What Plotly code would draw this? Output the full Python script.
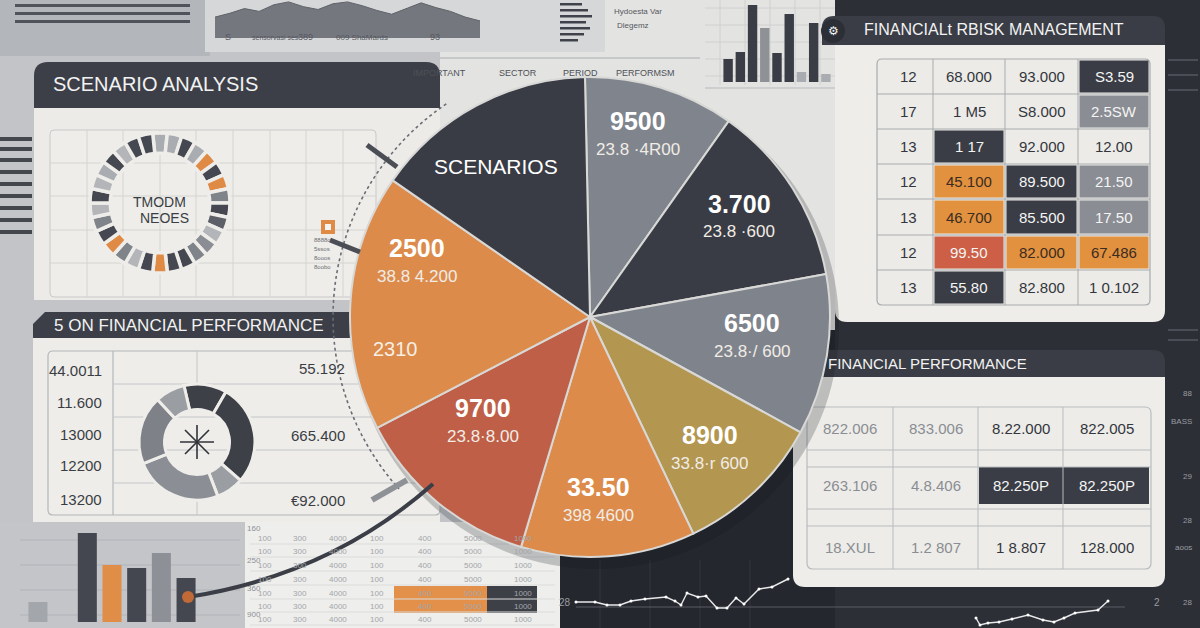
import math
import plotly.graph_objects as go

W, H = 1200, 628
FONT = "Liberation Sans, Arial, sans-serif"

# ---------------- data ----------------
pie_labels = ["9500", "3.700", "6500", "8900", "33.50", "9700", "2500", "SCENARIOS"]
pie_sub = ["23.8 ·4R00", "23.8 ·600", "23.8·/ 600", "33.8·r 600", "398 4600", "23.8·8.00", "38.8 4.200", ""]
pie_share = [36.5, 44.4, 39.0, 35.8, 42.2, 45.8, 62.2, 54.1]
pie_colors = ["#80858d", "#393c44", "#7f848c", "#b3964f", "#dc8b4b", "#bf5f47", "#dc8b4b", "#393c44"]

ring_values = [1, 1, 1, 1, 1, 1, 1, 1, 1, 1, 1, 1, 1, 1, 1, 1, 1, 1, 1, 1, 1, 1, 1, 1, 1, 1, 1, 1, 1, 1]
ring_colors = ["#a9acb1", "#a9acb1", "#454850", "#a9acb1", "#e08b45", "#454850", "#e08b45", "#7f838a",
               "#454850", "#5d6068", "#b3b5b9", "#8a8d93", "#7f838a", "#454850", "#454850", "#e08b45",
               "#454850", "#b3b5b9", "#7f838a", "#e08b45", "#454850", "#7f838a", "#b3b5b9", "#454850",
               "#b3b5b9", "#a9acb1", "#454850", "#b3b5b9", "#454850", "#454850"]

donut_values = [43, 101.5, 27.5, 89, 69, 30]
donut_colors = ["#3d4047", "#3d4047", "#9a9da2", "#8b8e94", "#7e8288", "#9a9da2"]

perf_left = ["44.0011", "11.600", "13000", "12200", "13200"]
perf_right = ["55.192", "665.400", "€92.000"]

risk_col0 = ["12", "17", "13", "12", "13", "12", "13"]
risk_col1 = ["68.000", "1 M5", "1 17", "45.100", "46.700", "99.50", "55.80"]
risk_col2 = ["93.000", "S8.000", "92.000", "89.500", "85.500", "82.000", "82.800"]
risk_col3 = ["S3.59", "2.5SW", "12.00", "21.50", "17.50", "67.486", "1 0.102"]

fin_row1 = ["822.006", "833.006", "8.22.000", "822.005"]
fin_row2 = ["263.106", "4.8.406", "82.250P", "82.250P"]
fin_row3 = ["18.XUL", "1.2 807", "1 8.807", "128.000"]

small_bar_cats = ["a", "b", "c", "d", "e", "f", "g"]
small_bar_vals = [20, 0, 89, 57, 54, 69, 44]
small_bar_cols = ["#a3a6ab", "#a3a6ab", "#44474f", "#e08d47", "#44474f", "#8d9096", "#44474f"]

top_bar_cats = ["1", "2", "3", "4", "5", "6", "7", "8", "9"]
top_bar_vals = [23, 30, 77, 54, 29, 68, 10, 59, 8]
top_bar_cols = ["#3a3d45", "#3a3d45", "#3a3d45", "#8e9196", "#3a3d45", "#3a3d45", "#a9acb0", "#3a3d45", "#a9acb0"]

line1_x = [6, 25, 37, 50, 61, 75, 96, 105, 111, 117, 128, 136, 147, 157, 166, 174, 189, 202, 218]
line1_y = [26, 26, 23, 23, 27, 29, 31, 27, 23, 35, 31, 32, 20, 20, 30, 24, 39, 41, 49]
line2_x = [406, 410, 418, 429, 442, 458, 473, 484, 494, 505, 528, 538]
line2_y = [10, 3, 5, 6, 9, 13, 8, 6, 10, 15, 18, 27]

area_vals = [22, 26, 31, 28, 35, 38, 33, 30, 36, 38, 34, 29, 25, 31, 37, 32, 28, 22, 18]


# ---------------- helpers ----------------
def X(p):
    return p / W


def Y(p):
    return 1 - p / H


shapes = []
annotations = []


def rect(x0, y0, x1, y1, fill, line=None, lw=0, layer="below"):
    shapes.append(dict(type="rect", xref="paper", yref="paper", x0=X(x0), x1=X(x1), y0=Y(y1), y1=Y(y0),
                       fillcolor=fill, line=dict(color=line or fill, width=lw), layer=layer))


def rrect(x0, y0, x1, y1, r, fill, line=None, lw=0, layer="below", corners=(1, 1, 1, 1)):
    tl, tr, br, bl = [r if c else 0 for c in corners]
    pts = []
    pts.append(f"M {X(x0 + tl)},{Y(y0)}")
    pts.append(f"L {X(x1 - tr)},{Y(y0)}")
    pts.append(f"Q {X(x1)},{Y(y0)} {X(x1)},{Y(y0 + tr)}")
    pts.append(f"L {X(x1)},{Y(y1 - br)}")
    pts.append(f"Q {X(x1)},{Y(y1)} {X(x1 - br)},{Y(y1)}")
    pts.append(f"L {X(x0 + bl)},{Y(y1)}")
    pts.append(f"Q {X(x0)},{Y(y1)} {X(x0)},{Y(y1 - bl)}")
    pts.append(f"L {X(x0)},{Y(y0 + tl)}")
    pts.append(f"Q {X(x0)},{Y(y0)} {X(x0 + tl)},{Y(y0)} Z")
    shapes.append(dict(type="path", xref="paper", yref="paper", path=" ".join(pts), fillcolor=fill,
                       line=dict(color=line or fill, width=lw), layer=layer))


def hline(x0, x1, y, color, w=1, layer="below", dash=None):
    shapes.append(dict(type="line", xref="paper", yref="paper", x0=X(x0), x1=X(x1), y0=Y(y), y1=Y(y),
                       line=dict(color=color, width=w, dash=dash), layer=layer))


def line(x0, y0, x1, y1, color, w=1, layer="below"):
    shapes.append(dict(type="line", xref="paper", yref="paper", x0=X(x0), x1=X(x1), y0=Y(y0), y1=Y(y1),
                       line=dict(color=color, width=w), layer=layer))


def circle(cx, cy, r, fill, line_c=None, lw=0, layer="below"):
    shapes.append(dict(type="circle", xref="paper", yref="paper", x0=X(cx - r), x1=X(cx + r),
                       y0=Y(cy + r), y1=Y(cy - r), fillcolor=fill,
                       line=dict(color=line_c or fill, width=lw), layer=layer))


def txt(x, y, s, size=14, color="#3a3d44", anchor="center", bold=False, family=FONT):
    annotations.append(dict(x=X(x), y=Y(y), xref="paper", yref="paper", text=(f"<b>{s}</b>" if bold else s),
                            showarrow=False, xanchor=anchor, yanchor="middle",
                            font=dict(size=size, color=color, family=family)))


# ---------------- background ----------------
rect(0, 0, 210, 56, "#b3b6bb")
for yy in [4, 12, 20]:
    rect(15, yy, 190, yy + 3, "#50535a")
rect(205, 0, 605, 52, "#d6d7d9")
rect(605, 0, 840, 330, "#e3e3e1")
rect(440, 52, 605, 330, "#e3e3e1")
for gy in [8, 25, 42, 59, 76]:
    hline(705, 835, gy, "#cfd0d0", 1)
for gx in [720, 745, 770, 795, 820]:
    line(gx, 0, gx, 85, "#cfd0d0", 1)
hline(705, 835, 88, "#b7b9bc", 1)
rect(835, 0, 1200, 628, "#2c2f36")
rect(560, 330, 835, 628, "#24272d")
for gx in [600, 650, 700, 750]:
    line(gx, 560, gx, 628, "#33363d", 1)
rect(245, 522, 560, 628, "#eeeeec")
rect(0, 522, 245, 628, "#c3c5c9")
for gy in [540, 565, 590, 615]:
    hline(20, 240, gy, "#b0b3b8", 1)
# left edge dark lines
for yy in [137, 147, 158, 170, 182, 194, 206, 218, 230]:
    rect(0, yy, 32, yy + 4, "#44474e")
# right edge faint lines
for yy in [60, 75, 90, 330, 340]:
    hline(1168, 1198, yy, "#4a4d55", 2)

# column headers above pie
txt(440, 73, "IMPORTANT", 9, "#4e5158", "center")
txt(518, 73, "SECTOR", 9, "#4e5158")
txt(580, 73, "PERIOD", 9, "#4e5158")
txt(645, 73, "PERFORMSM", 9, "#4e5158")
hline(440, 700, 58, "#c7c8ca", 2)

# top strip labels
txt(228, 37, "S", 9, "#55585f")
txt(250, 37, "sensorvasi ses", 7, "#55585f", "left")
txt(305, 37, "389", 9, "#55585f")
txt(362, 37, "009 ShaMards", 8, "#55585f")
txt(435, 37, "93", 9, "#55585f")
txt(612, 11, "Hydoesta Var", 8, "#55585f", "left")
txt(615, 25, "Dlegemz", 8, "#55585f", "left")
for i, yy in enumerate([3, 9, 15, 21, 27, 33, 39]):
    rect(560, yy, 560 + [22, 28, 32, 26, 30, 24, 18][i], yy + 2.5, "#3f424a")

# ---------------- left panel 1: scenario analysis ----------------
rect(34, 108, 440, 300, "#ecebe8")
rrect(34, 62, 440, 108, 14, "#3c3f47", corners=(1, 1, 0, 0))
txt(51, 84, "SCENARIO ANALYSIS", 20, "#f2f2f2", "left")
rrect(50, 130, 376, 297, 4, "#eeede9", "#c9c9c9", 1)
for gx in [87, 123, 160, 196, 233, 270, 306, 343]:
    line(gx, 130, gx, 297, "#d4d4d2", 1)
for gy in [163, 196, 230, 263]:
    hline(50, 376, gy, "#d4d4d2", 1)
txt(159, 202, "TMODM", 14, "#3a3d44")
txt(164, 218, "NEOES", 14, "#3a3d44")
# small orange icon
rect(321, 220, 335, 234, "#e08b45")
rect(325, 224, 331, 230, "#f4f4f2")
for i, s in enumerate(["8888o", "5ssos", "8ooos", "8oobo"]):
    txt(312, 240 + i * 9, s, 6, "#6b6e74", "left")

# ---------------- left panel 2: financial performance ----------------
rect(33, 338, 440, 522, "#edece9")
shapes.append(dict(type="path", xref="paper", yref="paper",
                   path=f"M {X(45)},{Y(312)} L {X(350)},{Y(312)} L {X(350)},{Y(338)} L {X(33)},{Y(338)} L {X(33)},{Y(324)} Z",
                   fillcolor="#3c3f47", line=dict(width=0), layer="below"))
txt(52, 325, "5 ON FINANCIAL PERFORMANCE", 17, "#f2f2f2", "left")
rrect(48, 351, 440, 515, 5, "#eeede9", "#b4b6ba", 1.2)
line(113, 351, 113, 515, "#b4b6ba", 1.2)
line(197, 351, 197, 383, "#c4c6c9", 1)
line(197, 483, 197, 515, "#c4c6c9", 1)
for gy in [384, 417, 450, 483]:
    hline(113, 440, gy, "#c4c6c9", 1)
for i, s in enumerate(perf_left):
    txt(104, [370, 402, 434, 466, 499][i], s, 15, "#3a3d44", "right")
for i, s in enumerate(perf_right):
    txt(347, [368, 435, 500][i], s, 15, "#3a3d44", "right")
# asterisk in donut centre
for ang in [0, 45, 90, 135]:
    a = math.radians(ang)
    line(197 - 17 * math.cos(a), 442 - 17 * math.sin(a), 197 + 17 * math.cos(a), 442 + 17 * math.sin(a),
         "#2f3239", 1.6)

# ---------------- top-right panel: risk management ----------------
rrect(835, 45, 1165, 322, 12, "#eeede9", corners=(0, 0, 1, 1))
rrect(822, 16, 1165, 45, 12, "#3a3d45", corners=(1, 1, 0, 0))
circle(833, 31, 12, "#2c2f36")
txt(833, 31, "⚙", 12, "#f2f2f2")
txt(862, 30, "FINANCIALt RBISK MANAGEMENT", 16, "#f2f2f2", "left")
rrect(877, 59, 1150, 305, 5, "#ecebe7", "#a9abaf", 1.2)
col_x = [877, 933, 1005, 1078, 1150]
row_y = [59, 94, 129, 164, 199, 235, 270, 305]
DK, GR, OR, RD, LT = "#3a3d45", "#8a8d93", "#e2913f", "#cc5f45", None
risk_fill = [[LT, LT, DK], [LT, LT, GR], [DK, LT, LT], [OR, DK, GR], [OR, DK, GR], [RD, OR, OR], [DK, LT, LT]]
cols = [risk_col0, risk_col1, risk_col2, risk_col3]
for r in range(7):
    for c in range(1, 4):
        f = risk_fill[r][c - 1]
        if f:
            rect(col_x[c] + 1.5, row_y[r] + 1.5, col_x[c + 1] - 1.5, row_y[r + 1] - 1.5, f)
for gx in col_x[1:-1]:
    line(gx, 59, gx, 305, "#a9abaf", 1)
for gy in row_y[1:-1]:
    hline(877, 1150, gy, "#a9abaf", 1)
for r in range(7):
    for c in range(4):
        f = risk_fill[r][c - 1] if c > 0 else None
        colr = "#f4f4f4" if f in (DK, GR, RD) else ("#3a2c22" if f == OR else "#33363d")
        cx = (col_x[c] + col_x[c + 1]) / 2
        txt(cx + (4 if c == 0 else 0), (row_y[r] + row_y[r + 1]) / 2, cols[c][r], 15, colr)

# ---------------- bottom-right panel: financial performance ----------------
rrect(793, 377, 1165, 587, 12, "#eeede9", corners=(0, 0, 1, 1))
rrect(800, 350, 1165, 377, 12, "#3a3d45", corners=(1, 1, 0, 0))
txt(826, 363, "FINANCIAL PERFORMANCE", 15, "#f2f2f2", "left")
rrect(807, 407, 1151, 569, 6, "#edece8", "#b9bbbf", 1.2)
fcol = [807, 893, 978, 1063, 1151]
rect(979, 467, 1149, 504, "#3a3d45")
for gx in fcol[1:-1]:
    line(gx, 407, gx, 569, "#b9bbbf", 1)
for gy in [450, 467, 509, 526]:
    hline(807, 1151, gy, "#b9bbbf", 1)
fin_colors = [["#8a8d93", "#8a8d93", "#33363d", "#33363d"],
              ["#8a8d93", "#8a8d93", "#f4f4f4", "#f4f4f4"],
              ["#8a8d93", "#8a8d93", "#33363d", "#33363d"]]
for r, (row, yy) in enumerate(zip([fin_row1, fin_row2, fin_row3], [428, 485, 547])):
    for c in range(4):
        txt((fcol[c] + fcol[c + 1]) / 2, yy, row[c], 15, fin_colors[r][c])

# right-edge faint labels
for yy, s in [(393, "88"), (421, "BASS"), (476, "29"), (520, "28"), (547, "aoos"), (602, "28")]:
    txt(1194, yy, s, 8, "#9a9ca3", "right")
txt(1157, 602, "2", 10, "#9a9ca3")
txt(565, 602, "28", 10, "#9a9ca3")
hline(576, 1125, 607, "#5a5d64", 1)

# bottom-middle faint table
tab_cols = [265, 300, 338, 377, 425, 473, 523]
tab_rows = [538, 551, 565, 579, 593, 606, 619]
tab_txt = ["100", "300", "4000", "100", "400", "5000", "1000"]
rect(394, 586, 487, 613, "#e3914a")
rect(487, 586, 537, 613, "#3d4047")
for ry in tab_rows:
    hline(250, 555, ry + 6, "#dcdcdc", 1)
    for cx, s in zip(tab_cols, tab_txt):
        txt(cx, ry, s, 8, "#a3a5a9")
for yy, s in [(528, "160"), (560, "250"), (588, "360"), (614, "900")]:
    txt(254, yy, s, 8, "#8e9095")

# pie shadow
circle(596, 326, 243, "rgba(20,22,28,0.22)")

# dotted arc around pie (decoration)
arc_pts = []
for k in range(41):
    ang = math.radians(326 - k * (326 - 228) / 40)
    arc_pts.append((590 + 257 * math.sin(ang), 317 - 257 * math.cos(ang)))
path = "M " + " L ".join(f"{X(px)},{Y(py)}" for px, py in arc_pts)
shapes.append(dict(type="path", xref="paper", yref="paper", path=path,
                   line=dict(color="#6a6d74", width=1.6, dash="dot"), layer="below"))

# ---------------- foreground decorations ----------------
line(367, 145, 397, 167, "#4b4e55", 5, "above")
line(330, 240, 360, 252, "#4b4e55", 5, "above")
line(372, 500, 407, 480, "#8e9196", 6, "above")
shapes.append(dict(type="path", xref="paper", yref="paper",
                   path=f"M {X(188)},{Y(597)} Q {X(330)},{Y(575)} {X(433)},{Y(484)}",
                   line=dict(color="#3b3e46", width=4), layer="above"))
circle(188, 597, 6, "#c06a38", layer="above")

# pie slice labels
pie_pos = [(638, 121), (739, 204), (752, 323), (710, 435), (598, 487), (483, 408), (417, 248), (496, 166)]
for lab, sub, (px, py) in zip(pie_labels, pie_sub, pie_pos):
    if lab == "SCENARIOS":
        txt(px, py, lab, 21, "#ffffff")
    else:
        txt(px, py, lab, 25, "#ffffff", bold=True)
        txt(px, py + 28, sub, 17, "#f1ece6")
txt(395, 349, "2310", 20, "#f6efe6")

# ---------------- traces ----------------
fig = go.Figure()

R, CX, CY = 240, 590, 317
fig.add_trace(go.Pie(values=pie_share, labels=pie_labels, sort=False, direction="clockwise", rotation=-1.2,
                     marker=dict(colors=pie_colors, line=dict(color="#d8d8d6", width=2)),
                     textinfo="none", hoverinfo="skip", showlegend=False,
                     domain=dict(x=[X(CX - R), X(CX + R)], y=[Y(CY + R), Y(CY - R)])))

fig.add_trace(go.Pie(values=ring_values, sort=False, direction="clockwise", rotation=-6, hole=0.71,
                     marker=dict(colors=ring_colors, line=dict(color="#eeede9", width=3.5)),
                     textinfo="none", hoverinfo="skip", showlegend=False,
                     domain=dict(x=[X(160 - 70), X(160 + 70)], y=[Y(203 + 70), Y(203 - 70)])))

fig.add_trace(go.Pie(values=donut_values, sort=False, direction="clockwise", rotation=-13, hole=0.56,
                     marker=dict(colors=donut_colors, line=dict(color="#eeede9", width=3)),
                     textinfo="none", hoverinfo="skip", showlegend=False,
                     domain=dict(x=[X(197 - 58), X(197 + 58)], y=[Y(442 + 58), Y(442 - 58)])))

fig.add_trace(go.Bar(x=small_bar_cats, y=small_bar_vals, marker=dict(color=small_bar_cols, line=dict(width=0)),
                     xaxis="x", yaxis="y", hoverinfo="skip", showlegend=False))
fig.add_trace(go.Bar(x=top_bar_cats, y=top_bar_vals, marker=dict(color=top_bar_cols, line=dict(width=0)),
                     xaxis="x2", yaxis="y2", hoverinfo="skip", showlegend=False))
fig.add_trace(go.Scatter(x=line1_x, y=line1_y, mode="lines+markers", line=dict(color="#e8e8ea", width=1.4),
                         marker=dict(size=3, color="#ffffff"), xaxis="x3", yaxis="y3", hoverinfo="skip",
                         showlegend=False))
fig.add_trace(go.Scatter(x=line2_x, y=line2_y, mode="lines+markers", line=dict(color="#e8e8ea", width=1.4),
                         marker=dict(size=3, color="#ffffff"), xaxis="x3", yaxis="y3", hoverinfo="skip",
                         showlegend=False))
fig.add_trace(go.Scatter(y=area_vals, mode="lines", fill="tozeroy", line=dict(color="#5f6269", width=1),
                         fillcolor="#74777e", xaxis="x4", yaxis="y4", hoverinfo="skip", showlegend=False))

hidden = dict(visible=False, fixedrange=True)
fig.update_layout(
    width=W, height=H, margin=dict(l=0, r=0, t=0, b=0),
    paper_bgcolor="#c2c4c8", plot_bgcolor="rgba(0,0,0,0)",
    showlegend=False, bargap=0.23,
    xaxis=dict(domain=[X(25.6), X(198.4)], **hidden),
    yaxis=dict(domain=[Y(622), Y(480)], range=[0, 142], **hidden),
    xaxis2=dict(domain=[X(722), X(832)], **hidden),
    yaxis2=dict(domain=[Y(82), Y(0)], range=[0, 82], **hidden),
    xaxis3=dict(domain=[X(570), X(1110)], range=[0, 540], **hidden),
    yaxis3=dict(domain=[Y(628), Y(570)], range=[0, 58], **hidden),
    xaxis4=dict(domain=[X(215), X(480)], range=[0, 18], **hidden),
    yaxis4=dict(domain=[Y(38), Y(0)], range=[0, 40], **hidden),
    shapes=shapes, annotations=annotations,
)

fig.write_html("out.html", config={"displayModeBar": False},
               post_script="document.body.style.margin='0';document.body.style.overflow='hidden';")
